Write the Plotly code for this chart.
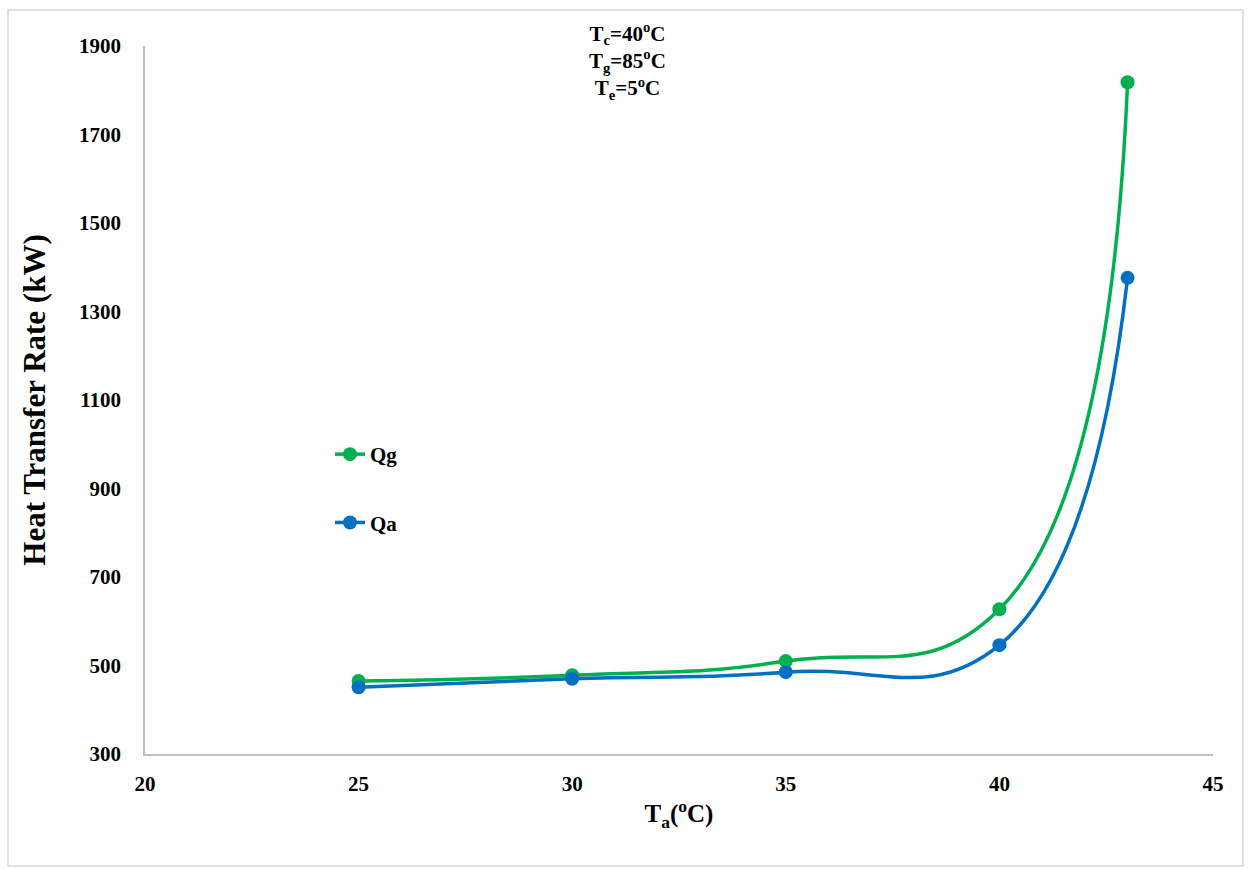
import plotly.graph_objects as go

ta = [25, 30, 35, 40, 43]
qg = [465, 478, 510, 627, 1818]
qa = [451, 470, 485, 546, 1376]

green = "#00b050"
blue = "#0070c0"
font_family = "Liberation Serif"

fig = go.Figure()
fig.add_trace(go.Scatter(x=ta, y=qg, name="<b>Qg</b>", mode="lines+markers",
                         line=dict(color=green, width=3.5, shape="spline", smoothing=1.3),
                         marker=dict(size=14, color=green), legendgroup="g"))
fig.add_trace(go.Scatter(x=ta, y=qa, name="<b>Qa</b>", mode="lines+markers",
                         line=dict(color=blue, width=3.5, shape="spline", smoothing=1.3),
                         marker=dict(size=14, color=blue), legendgroup="a"))

W, H = 1251, 869
L, R, T, B = 145, 38, 46, 115
pw, ph = W - L - R, H - T - B

def px(xp):
    return (xp - L) / pw

def py(yp):
    return (H - B - yp) / ph

fig.update_layout(
    width=W, height=H,
    margin=dict(l=L, r=R, t=T, b=B),
    paper_bgcolor="white", plot_bgcolor="white",
    font=dict(family=font_family, color="black"),
    showlegend=True,
    legend=dict(x=px(330), y=py(434), xanchor="left", yanchor="top",
                font=dict(size=21, family=font_family),
                tracegroupgap=38, bgcolor="rgba(0,0,0,0)"),
    xaxis=dict(range=[20, 45], tick0=20, dtick=5, showgrid=False, zeroline=False,
               showline=True, linecolor="#bfbfbf", linewidth=1.5, ticks="",
               tickfont=dict(size=21, family=font_family), ticklabelstandoff=10,
               title=dict(text="<b>T<sub>a</sub>(<sup>o</sup>C)</b>",
                          font=dict(size=25, family=font_family), standoff=10)),
    yaxis=dict(range=[300, 1900], tick0=300, dtick=200, showgrid=False, zeroline=False,
               showline=True, linecolor="#bfbfbf", linewidth=1.5, ticks="",
               tickfont=dict(size=21, family=font_family), ticklabelstandoff=18,
               title=dict(text="<b>Heat Transfer Rate (kW)</b>",
                          font=dict(size=31, family=font_family), standoff=24)),
)

fig.update_yaxes(tickprefix="<b>", ticksuffix="</b>")
fig.update_xaxes(tickprefix="<b>", ticksuffix="</b>")

fig.add_annotation(xref="paper", yref="paper", x=px(627), y=py(61),
                   text="<b>T<sub>c</sub>=40<sup>o</sup>C<br>T<sub>g</sub>=85<sup>o</sup>C<br>T<sub>e</sub>=5<sup>o</sup>C</b>",
                   showarrow=False, font=dict(size=21, family=font_family),
                   align="center", xanchor="center", yanchor="middle")

fig.add_shape(type="rect", xref="paper", yref="paper",
              x0=px(8), x1=px(1243), y0=py(866), y1=py(10),
              line=dict(color="#d9d9d9", width=1.5), fillcolor="rgba(0,0,0,0)", layer="below")

fig.write_html("out.html")
